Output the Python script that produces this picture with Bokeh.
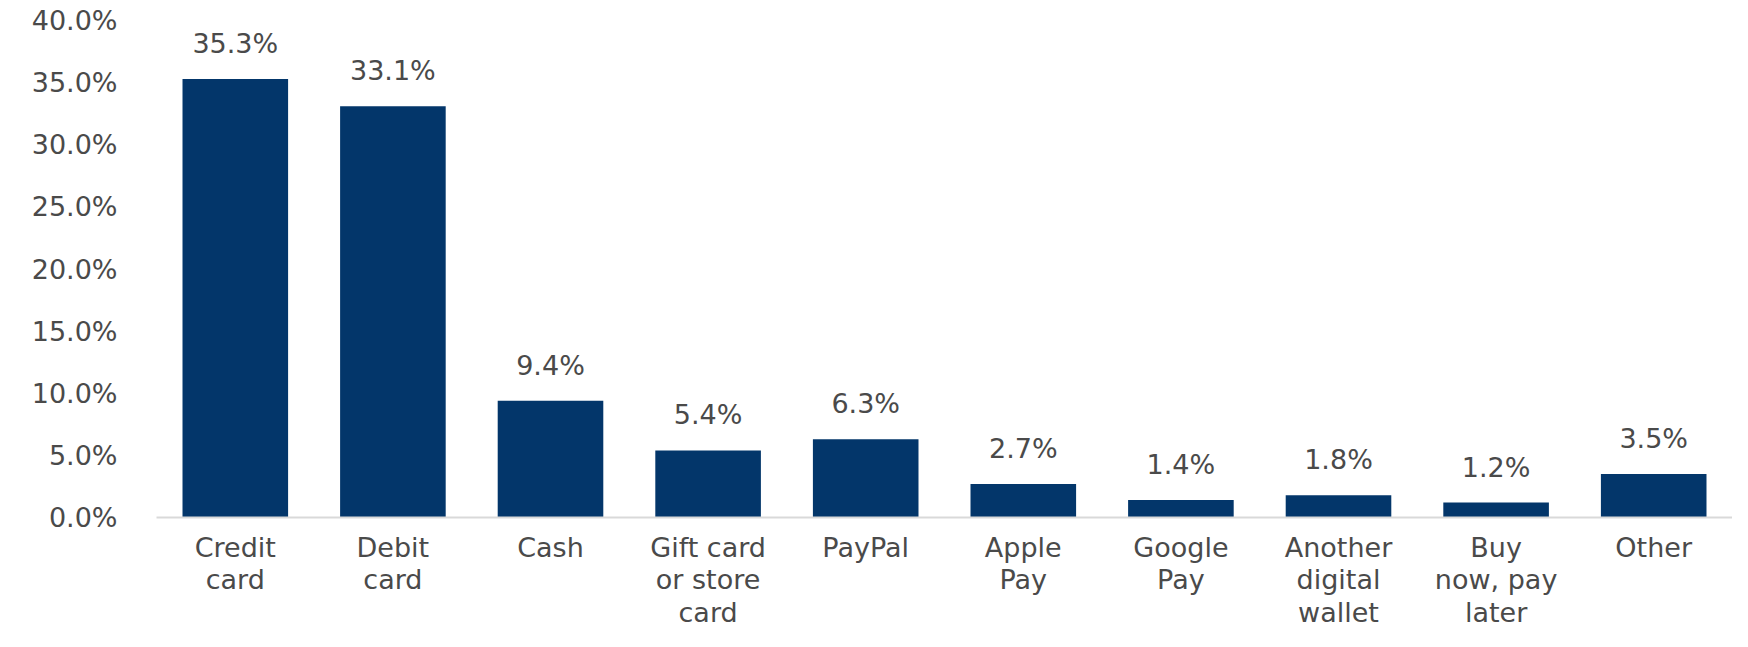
from bokeh.plotting import figure
from bokeh.models import ColumnDataSource, FactorRange, Range1d, FixedTicker, PrintfTickFormatter, LabelSet
from bokeh.core.properties import value
from bokeh.embed import file_html
from bokeh.resources import INLINE

categories = ["Credit\ncard", "Debit\ncard", "Cash", "Gift card\nor store\ncard", "PayPal",
              "Apple\nPay", "Google\nPay", "Another\ndigital\nwallet", "Buy\nnow, pay\nlater", "Other"]
values = [35.3, 33.1, 9.4, 5.4, 6.3, 2.7, 1.4, 1.8, 1.2, 3.5]
y_ticks = [0, 5, 10, 15, 20, 25, 30, 35, 40]

FONT = "DejaVu Sans"
FS = "27px"
TEXT_COLOR = "#4a4a4a"
BAR_COLOR = "#03366a"

source = ColumnDataSource(dict(
    cat=categories,
    val=values,
    lab=["%.1f%%" % v for v in values],
))

p = figure(
    width=1732, height=631,
    x_range=FactorRange(*categories, range_padding=0),
    y_range=Range1d(0, 40),
    output_backend="svg", toolbar_location=None,
    min_border_left=156, min_border_right=0, min_border_top=20, min_border_bottom=111,
)
p.outline_line_color = None
p.background_fill_color = "white"
p.border_fill_color = "white"
p.xgrid.grid_line_color = None
p.ygrid.grid_line_color = None

p.vbar(x="cat", top="val", width=0.67, source=source, fill_color=BAR_COLOR, line_color=None)

labels = LabelSet(x="cat", y="val", text="lab", source=source, text_align="center",
                  text_baseline="alphabetic", y_offset=26, text_font=value(FONT),
                  text_font_size=FS, text_color=TEXT_COLOR)
p.add_layout(labels)

p.yaxis.ticker = FixedTicker(ticks=y_ticks)
p.yaxis.formatter = PrintfTickFormatter(format="%.1f%%")
p.yaxis.axis_line_color = None
p.yaxis.major_tick_line_color = None
p.yaxis.minor_tick_line_color = None
p.yaxis.major_label_standoff = 33
p.yaxis.major_label_text_font = FONT
p.yaxis.major_label_text_font_size = FS
p.yaxis.major_label_text_color = TEXT_COLOR

p.xaxis.axis_line_color = "#d9d9d9"
p.xaxis.axis_line_width = 2
p.xaxis.major_tick_line_color = None
p.xaxis.minor_tick_line_color = None
p.xaxis.major_label_standoff = 8
p.xaxis.major_label_text_font = FONT
p.xaxis.major_label_text_font_size = FS
p.xaxis.major_label_text_color = TEXT_COLOR
p.xaxis.major_label_text_line_height = 1.06

open("out.html", "w").write(file_html(p, INLINE))
